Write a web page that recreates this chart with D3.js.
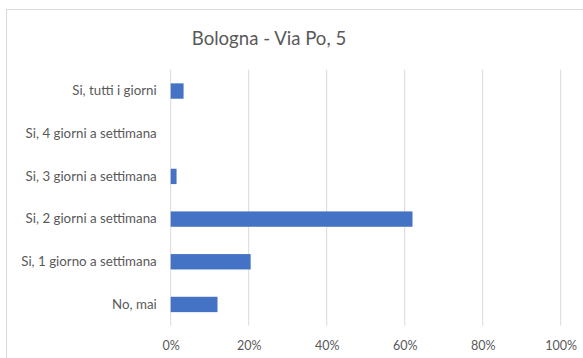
<!DOCTYPE html>
<html><head><meta charset="utf-8">
<script src="https://cdn.jsdelivr.net/npm/d3@7"></script>
<style>body{margin:0;background:#fff;} svg{display:block;font-family:Lato,"Open Sans",sans-serif;}</style>
</head><body>
<script>
const categories = ["Si, tutti i giorni","Si, 4 giorni a settimana","Si, 3 giorni a settimana","Si, 2 giorni a settimana","Si, 1 giorno a settimana","No, mai"];
const values = [0.033, 0, 0.015, 0.62, 0.205, 0.12];
const tickValues = [0,0.2,0.4,0.6,0.8,1.0];
const title = "Bologna - Via Po, 5";

const W=583,H=358;
const svg=d3.select("body").append("svg").attr("width",W).attr("height",H);
svg.append("rect").attr("x",6.5).attr("y",9.5).attr("width",590).attr("height",360).attr("fill","#fff").attr("stroke","#d9d9d9");
svg.append("text").attr("x",269).attr("y",45).attr("text-anchor","middle").attr("font-size",18.6).attr("fill","#595959").text(title);

const x=d3.scaleLinear().domain([0,1]).range([170.7,560.7]);
const y=d3.scaleBand().domain(categories).range([69.7,325.8]).paddingInner(0.64).paddingOuter(0.32);

const grid=svg.append("g");
grid.selectAll("line").data(tickValues).join("line")
 .attr("x1",d=>x(d)).attr("x2",d=>x(d)).attr("y1",69.7).attr("y2",325.8)
 .attr("stroke","#d9d9d9").attr("stroke-width",1);

const xAxis=d3.axisBottom(x).tickValues(tickValues).tickFormat(d3.format(".0%")).tickSize(0).tickPadding(15);
const gx=svg.append("g").attr("transform","translate(0,325.8)").call(xAxis);
gx.select(".domain").remove();
gx.selectAll("text").attr("font-size",12.5).attr("fill","#595959").attr("font-family","Lato,sans-serif");

const yAxis=d3.axisLeft(y).tickSize(0).tickPadding(14);
const gy=svg.append("g").attr("transform","translate(170.7,0)").call(yAxis);
gy.select(".domain").remove();
gy.selectAll("text").attr("font-size",13.3).attr("fill","#595959").attr("font-family","Lato,sans-serif");

svg.append("g").selectAll("rect").data(values).join("rect")
 .attr("x",x(0)).attr("y",(d,i)=>y(categories[i]))
 .attr("width",d=>x(d)-x(0)).attr("height",y.bandwidth())
 .attr("fill","#4472c4");
</script>
</body></html>
